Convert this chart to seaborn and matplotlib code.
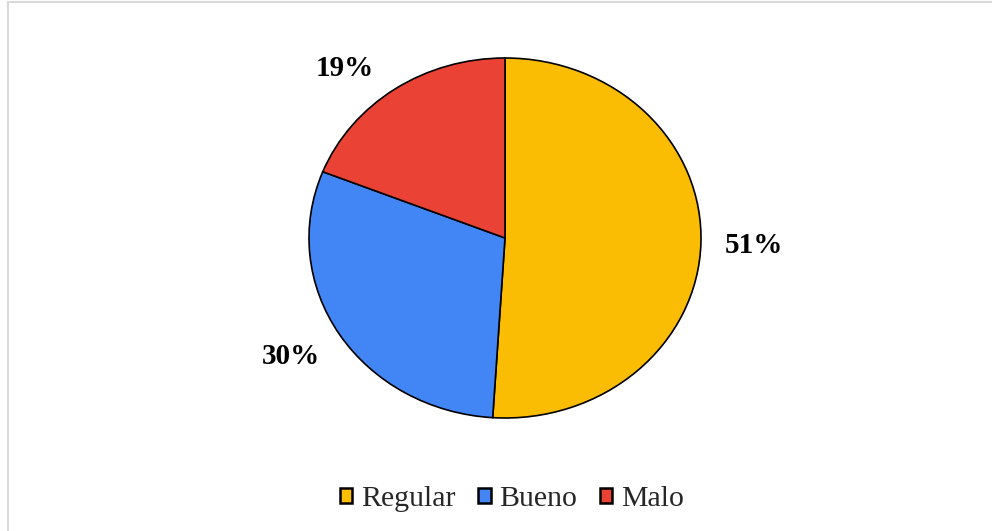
import matplotlib
matplotlib.use("Agg")
import matplotlib.pyplot as plt
from matplotlib.patches import Patch
from matplotlib.lines import Line2D
import seaborn as sns

# Distribution of ratings
categories = ["Regular", "Bueno", "Malo"]
percentages = [51, 30, 19]
colors = ["#FBBC04", "#4285F4", "#EA4335"]

sns.set_theme(style="white")
plt.rcParams["font.family"] = ["Liberation Serif", "DejaVu Serif"]
palette = sns.color_palette(colors)

W, H = 992, 531
fig = plt.figure(figsize=(W / 100, H / 100), dpi=100)
fig.patch.set_facecolor("white")

# Axes placed so that the pie (radius 1) is centered at (505, 238) px
cx, cy = 505, 238
sx, sy = 196, 180  # pixels per data unit
xr, yr = 1.5, 1.25
ax = fig.add_axes([(cx - xr * sx) / W, (H - cy - yr * sy) / H,
                   2 * xr * sx / W, 2 * yr * sy / H])

wedges, texts, autotexts = ax.pie(
    percentages,
    colors=palette,
    startangle=90,
    counterclock=False,
    autopct=lambda p: f"{p:.0f}%",
    pctdistance=1.27,
    wedgeprops=dict(edgecolor="black", linewidth=1.2),
    textprops=dict(fontsize=21, fontweight="bold", color="black"),
)
# nudge the small slice's label toward the top of the pie
autotexts[2].set_position((-0.82, 0.94))
autotexts[1].set_position((-1.09, -0.66))
ax.set_aspect("auto")
ax.set_xlim(-xr, xr)
ax.set_ylim(-yr, yr)
ax.axis("off")

handles = [Patch(facecolor=c, edgecolor="black", linewidth=1.8) for c in palette]
fig.legend(handles, categories, loc="center", bbox_to_anchor=(0.516, 32 / H),
           ncol=3, frameon=False, fontsize=21.5, handlelength=0.42, handleheight=0.42,
           handletextpad=0.3, columnspacing=0.75)

# Light frame lines along the top and left edges
fig.add_artist(Line2D([8 / W, 1], [1 - 1.5 / H, 1 - 1.5 / H], color="#d9d9d9",
                      linewidth=1.5, transform=fig.transFigure))
fig.add_artist(Line2D([8 / W, 8 / W], [0, 1 - 1.5 / H], color="#d9d9d9",
                      linewidth=1.5, transform=fig.transFigure))

fig.savefig("out.png", dpi=100, facecolor="white")
